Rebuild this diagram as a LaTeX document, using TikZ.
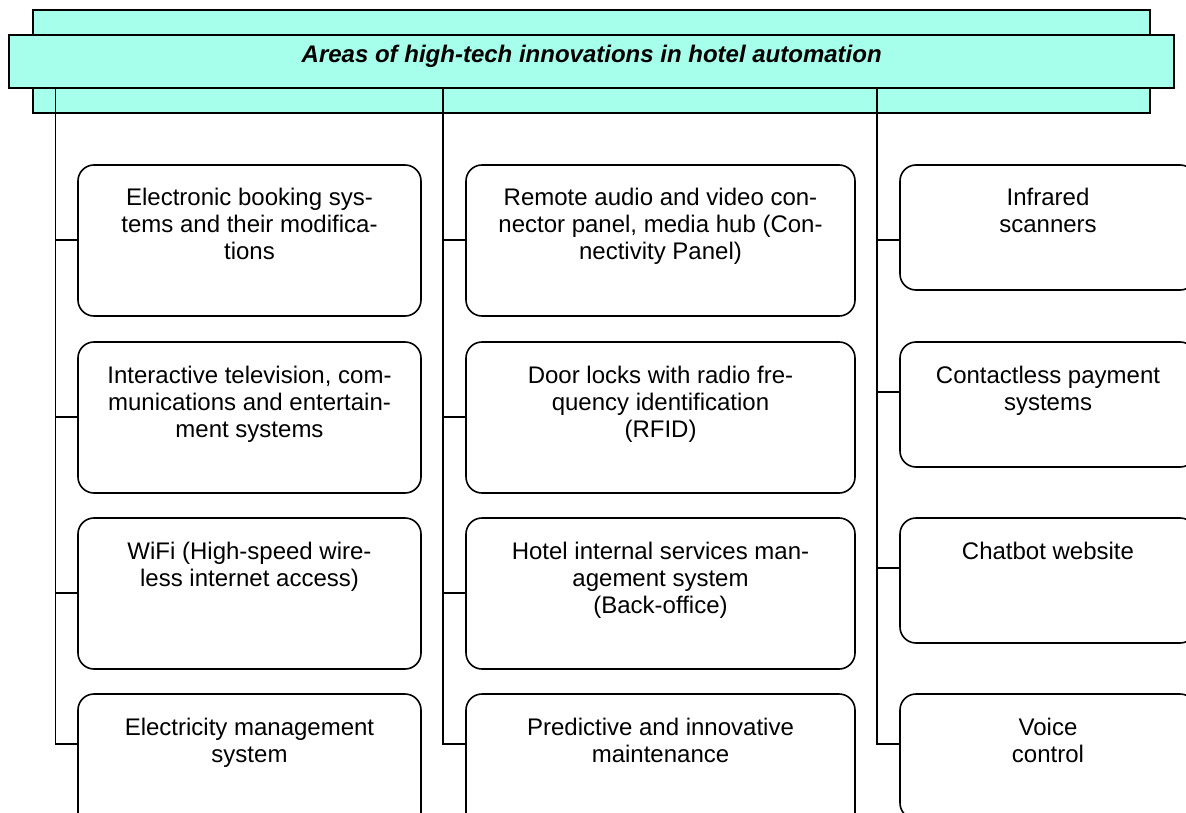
\documentclass[tikz,border=0pt]{standalone}
\usepackage{fontspec}
\setmainfont{Liberation Sans}
\definecolor{hdr}{RGB}{166,255,235}
\newcommand{\bxt}[3]{\parbox[t][#2][t]{#1}{\centering\rule{0pt}{41pt}#3}}
\begin{document}
\begin{tikzpicture}[x=1pt,y=-1pt,
  hbox/.style={draw=black, line width=1.6pt, rounded corners=16pt, inner sep=0pt, outer sep=0pt, anchor=north west, font=\fontsize{24}{27}\selectfont},
  link/.style={draw=black, line width=1.2pt},
  hdrline/.style={draw=black, line width=2pt, fill=hdr}
]
\useasboundingbox (0,0) rectangle (1186,813);
\clip (0,0) rectangle (1186,813);
% header
\draw[hdrline] (32.7,10) rectangle (1150.3,113);
\node[hdrline, minimum width=1165.3pt, minimum height=53pt, inner sep=0pt, outer sep=0pt,
      text height=17.5pt, text depth=14.5pt,
      font=\fontsize{24}{27}\selectfont\bfseries\itshape] (root) at (591.7,61.5)
      {Areas of high-tech innovations in hotel automation};
% left column
\node[hbox] (l1) at (78,165) {\bxt{343pt}{151pt}{Electronic booking sys-\\tems and their modifica-\\tions}};
\node[hbox] (l2) at (78,342) {\bxt{343pt}{151pt}{Interactive television, com-\\munications and entertain-\\ment systems}};
\node[hbox] (l3) at (78,518) {\bxt{343pt}{151pt}{WiFi (High-speed wire-\\less internet access)}};
\node[hbox] (l4) at (78,694) {\bxt{343pt}{151pt}{Electricity management\\system}};
% middle column
\node[hbox] (m1) at (466,165) {\bxt{389pt}{151pt}{Remote audio and video con-\\nector panel, media hub (Con-\\nectivity Panel)}};
\node[hbox] (m2) at (466,342) {\bxt{389pt}{151pt}{Door locks with radio fre-\\quency identification\\(RFID)}};
\node[hbox] (m3) at (466,518) {\bxt{389pt}{151pt}{Hotel internal services man-\\agement system\\ (Back-office)}};
\node[hbox] (m4) at (466,694) {\bxt{389pt}{151pt}{Predictive and innovative\\maintenance}};
% right column
\node[hbox] (r1) at (900,165) {\bxt{296pt}{125pt}{Infrared\\scanners}};
\node[hbox] (r2) at (900,342) {\bxt{296pt}{125pt}{Contactless payment\\systems}};
\node[hbox] (r3) at (900,518) {\bxt{296pt}{125pt}{Chatbot website}};
\node[hbox] (r4) at (900,694) {\bxt{296pt}{125pt}{Voice\\control}};
% trunk tops
\coordinate (tL) at (55.5,88);
\coordinate (tM) at (443,88);
\coordinate (tR) at (877,88);
% tick points
\coordinate (kl1) at ([yshift=-75pt]l1.north west);
\coordinate (kl2) at ([yshift=-75pt]l2.north west);
\coordinate (kl3) at ([yshift=-75pt]l3.north west);
\coordinate (kl4) at ([yshift=-50pt]l4.north west);
\coordinate (km1) at ([yshift=-75pt]m1.north west);
\coordinate (km2) at ([yshift=-75pt]m2.north west);
\coordinate (km3) at ([yshift=-75pt]m3.north west);
\coordinate (km4) at ([yshift=-50pt]m4.north west);
\coordinate (kr1) at ([yshift=-75pt]r1.north west);
\coordinate (kr2) at ([yshift=-50pt]r2.north west);
\coordinate (kr3) at ([yshift=-50pt]r3.north west);
\coordinate (kr4) at ([yshift=-50pt]r4.north west);
% connectors
\draw[link] (tL) |- (kl4);
\draw[link] (kl1) -- (kl1 -| tL);
\draw[link] (kl2) -- (kl2 -| tL);
\draw[link] (kl3) -- (kl3 -| tL);
\draw[link] (tM) |- (km4);
\draw[link] (km1) -- (km1 -| tM);
\draw[link] (km2) -- (km2 -| tM);
\draw[link] (km3) -- (km3 -| tM);
\draw[link] (tR) |- (kr4);
\draw[link] (kr1) -- (kr1 -| tR);
\draw[link] (kr2) -- (kr2 -| tR);
\draw[link] (kr3) -- (kr3 -| tR);
\end{tikzpicture}
\end{document}
